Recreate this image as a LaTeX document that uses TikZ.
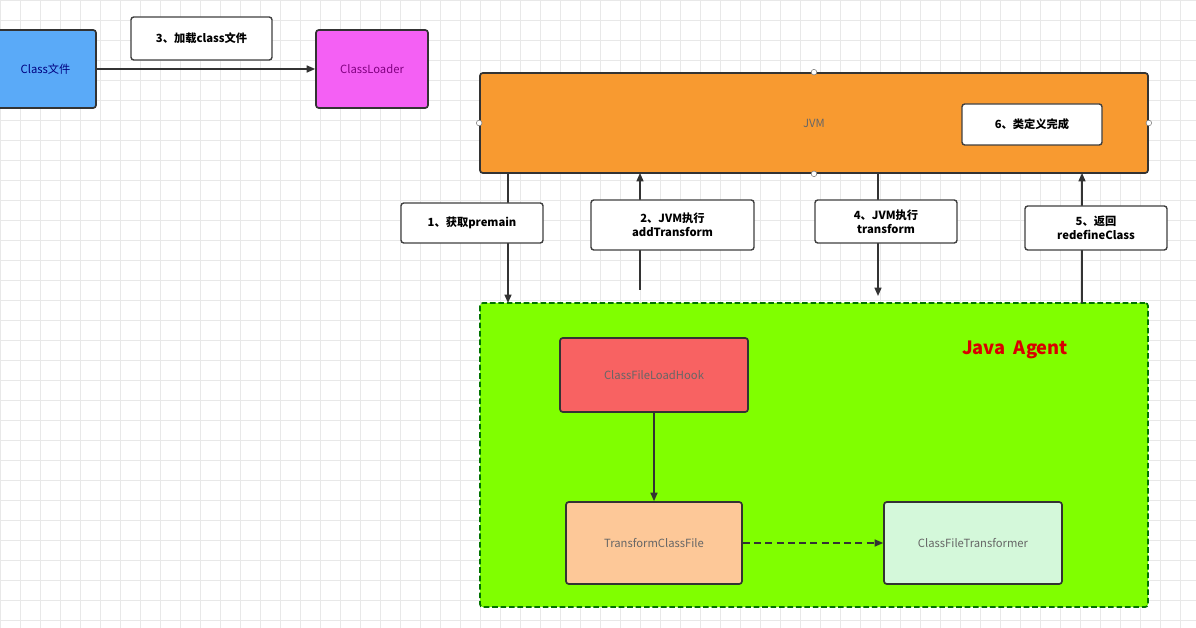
\documentclass[tikz,border=0pt]{standalone}
\usepackage{fontspec}
\setmainfont{Noto Sans CJK SC}
\usetikzlibrary{arrows.meta}
\definecolor{cblue}{HTML}{5AAAF8}
\definecolor{cmag}{HTML}{F460F4}
\definecolor{corange}{HTML}{F89A30}
\definecolor{cgreen}{HTML}{80FF00}
\definecolor{cred}{HTML}{F86262}
\definecolor{cpeach}{HTML}{FDC898}
\definecolor{clgreen}{HTML}{D4F8DA}
\begin{document}
\begin{tikzpicture}[x=0.025cm,y=-0.025cm,
  box/.style={draw=black!80,line width=1.2pt,rounded corners=2pt,inner sep=0pt,font=\fontsize{8}{10}\selectfont},
  lbl/.style={draw=black!75,line width=1pt,fill=white,rounded corners=2pt,align=center,inner sep=0pt,font=\bfseries\fontsize{8}{10}\selectfont},
  arr/.style={-{Triangle[length=6pt,width=5pt]},line width=1pt,draw=black!80},
  pt/.style={circle,draw=black!50,fill=white,inner sep=0pt,minimum size=4pt}]
\useasboundingbox (0,0) rectangle (1196,628);
\fill[white] (0,0) rectangle (1196,628);
\foreach \x in {0,20,...,1180} \draw[black!9] (\x,0) -- (\x,628);
\foreach \y in {0,20,...,620} \draw[black!9] (0,\y) -- (1196,\y);
\node[box,fill=cblue,text=blue!50!black,minimum width=101*0.025cm,minimum height=78*0.025cm] (cf) at (45.5,69) {Class文件};
\node[box,fill=cmag,text=violet,minimum width=112*0.025cm,minimum height=78*0.025cm] (cl) at (372,69) {ClassLoader};
\draw[arr] (cf) -- (cl);
\node[lbl,minimum width=141*0.025cm,minimum height=43*0.025cm] (l3) at (201.5,38.5) {3、加载class文件};
\node[box,fill=corange,text=black!60,minimum width=668*0.025cm,minimum height=100*0.025cm] (jvm) at (814,123) {JVM};
\node[lbl,minimum width=140*0.025cm,minimum height=41*0.025cm] (l6) at (1032,124.5) {6、类定义完成};
\node[box,fill=cgreen,dash pattern=on 4pt off 2pt,draw=green!45!black,minimum width=668*0.025cm,minimum height=304*0.025cm] (ag) at (814,455) {};
\node[text=red!85!black,font=\bfseries\fontsize{13}{15}\selectfont] (ja) at (1015,350) {Java\ \ Agent};
\foreach \n/\a in {a/north,b/south,c/west,d/east} \node[pt] (p\n) at (jvm.\a) {};
\coordinate (j1) at (508,173); \coordinate (a1) at (508,303);
\coordinate (j2) at (640,173); \coordinate (a2) at (640,290);
\coordinate (j4) at (878,173); \coordinate (a4) at (878,296);
\coordinate (j5) at (1082,173); \coordinate (a5) at (1082,303);
\draw[arr] (j1) -- (a1);
\draw[arr] (a2) -- (j2);
\draw[arr] (j4) -- (a4);
\draw[arr] (a5) -- (j5);
\node[lbl,minimum width=142*0.025cm,minimum height=40*0.025cm] (l1) at (472,223) {1、获取premain};
\node[lbl,minimum width=163*0.025cm,minimum height=50*0.025cm] (l2) at (672.5,225) {2、JVM执行\\addTransform};
\node[lbl,minimum width=142*0.025cm,minimum height=43*0.025cm] (l4) at (886,221.5) {4、JVM执行\\transform};
\node[lbl,minimum width=142*0.025cm,minimum height=44*0.025cm] (l5) at (1096,228) {5、返回\\redefineClass};
\node[box,fill=cred,text=black!60,minimum width=188*0.025cm,minimum height=74*0.025cm] (hook) at (654,375) {ClassFileLoadHook};
\node[box,fill=cpeach,text=black!60,minimum width=176*0.025cm,minimum height=82*0.025cm] (tcf) at (654,543) {TransformClassFile};
\node[box,fill=clgreen,text=black!60,minimum width=178*0.025cm,minimum height=82*0.025cm] (cft) at (973,543) {ClassFileTransformer};
\draw[arr] (hook) -- (tcf);
\draw[arr,dash pattern=on 5pt off 3pt] (tcf) -- (cft);
\end{tikzpicture}
\end{document}
